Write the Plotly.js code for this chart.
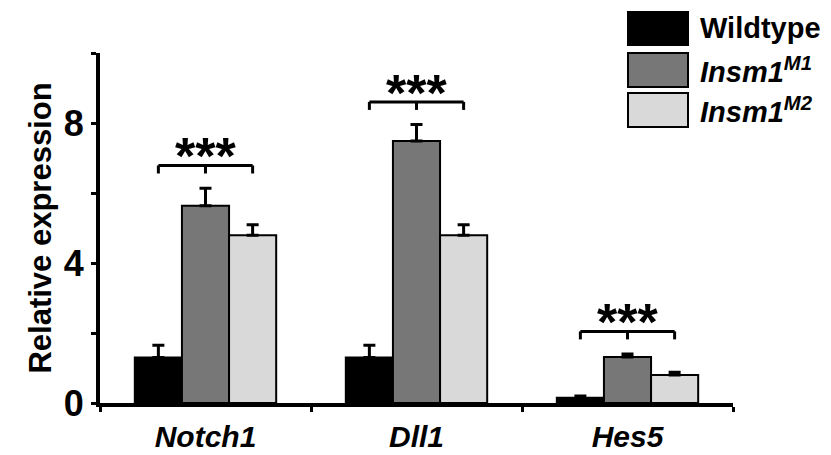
<!DOCTYPE html>
<html><head><meta charset="utf-8">
<script src="https://cdn.plot.ly/plotly-3.0.1.min.js"></script>
<style>html,body{margin:0;padding:0;background:#fff}#chart{width:831px;height:455px}</style>
</head><body><div id="chart"></div>
<script>
// ---- data ----
const genes = ['Notch1', 'Dll1', 'Hes5'];
const seriesNames = ['Wildtype', '<i>Insm1<sup>M1</sup></i>', '<i>Insm1<sup>M2</sup></i>'];
const wildtype = [1.3, 1.3, 0.15];
const insm1M1 = [5.65, 7.5, 1.32];
const insm1M2 = [4.8, 4.8, 0.8];
const wildtypeErr = [0.35, 0.35, 0.05];
const insm1M1Err = [0.5, 0.47, 0.08];
const insm1M2Err = [0.3, 0.3, 0.08];
const significance = ['***', '***', '***'];
const yTickVals = [0, 4, 8];
const yTickText = ['0', '4', '8'];
const yMinorStep = 2;

// ---- styling ----
const colors = ['#000000', '#777777', '#d9d9d9'];
const FONT = 'Liberation Sans, Arial, Helvetica, sans-serif';
const W = 831, H = 455;
const M = {l: 100, r: 98, t: 53, b: 52};
const bargap = 0.33;
const yRange = [0, 10.02];
const plotW = W - M.l - M.r, plotH = H - M.t - M.b;
const pxX = p => (p - M.l) / plotW;
const pxY = p => (H - M.b - p) / plotH;
const unitsPerPx = (yRange[1] - yRange[0]) / plotH;

const values = [wildtype, insm1M1, insm1M2];
const errs = [wildtypeErr, insm1M1Err, insm1M2Err];

const traces = values.map((v, k) => ({
  type: 'bar', x: genes, y: v, name: seriesNames[k],
  marker: {color: colors[k], line: {color: '#000', width: 2}},
  error_y: {type: 'data', symmetric: false, array: errs[k], arrayminus: v.map(() => 0),
            color: '#000', thickness: 3, width: 6},
  showlegend: false, hoverinfo: 'skip'
}));

const shapes = [];
const annotations = [];
const barW = (1 - bargap) / 3;
const tickDrop = 8 * unitsPerPx;
const bracketGap = 0.65;
genes.forEach((g, i) => {
  const top = Math.max(...values.map((v, k) => v[i] + errs[k][i]));
  const yb = top + bracketGap;
  const x0 = i - barW, x1 = i + barW;
  const line = {color: '#000', width: 3};
  shapes.push({type: 'line', xref: 'x', yref: 'y', x0: x0, x1: x1, y0: yb, y1: yb, line});
  [x0, i, x1].forEach(xx => shapes.push({type: 'line', xref: 'x', yref: 'y', x0: xx, x1: xx, y0: yb, y1: yb - tickDrop, line}));
  annotations.push({xref: 'x', yref: 'y', x: i, y: yb, text: '<b>' + significance[i] + '</b>', showarrow: false,
    xanchor: 'center', yanchor: 'bottom', yshift: -22, font: {family: FONT, size: 52, color: '#000'}});
});

// legend drawn manually (large swatches)
const legRows = [[12, 45], [53, 87], [93, 127]];
legRows.forEach((r, k) => {
  shapes.push({type: 'rect', xref: 'paper', yref: 'paper', x0: pxX(628), x1: pxX(688), y0: pxY(r[1]), y1: pxY(r[0]),
    fillcolor: colors[k], line: {color: '#000', width: 2}});
  annotations.push({xref: 'paper', yref: 'paper', x: pxX(698), y: pxY((r[0] + r[1]) / 2), xanchor: 'left', yanchor: 'middle',
    text: '<b>' + seriesNames[k] + '</b>', showarrow: false, font: {family: FONT, size: 29, color: '#000'}});
});

const layout = {
  width: W, height: H, margin: M,
  paper_bgcolor: '#fff', plot_bgcolor: '#fff',
  barmode: 'group', bargap: bargap, bargroupgap: 0,
  showlegend: false,
  font: {family: FONT, color: '#000'},
  xaxis: {
    type: 'category', tickson: 'boundaries', ticks: 'outside', ticklen: 5, tickwidth: 3, tickcolor: '#000',
    showline: true, linewidth: 4, linecolor: '#000', showgrid: false, zeroline: false,
    tickfont: {family: FONT, size: 30, weight: 'bold', style: 'italic', color: '#000'},
    ticklabelstandoff: 4
  },
  yaxis: {
    range: yRange, tickmode: 'array', tickvals: yTickVals, ticktext: yTickText, ticks: 'outside', ticklen: 5, tickwidth: 3, tickcolor: '#000',
    minor: {tick0: 0, dtick: yMinorStep, ticks: 'outside', ticklen: 5, tickwidth: 3, tickcolor: '#000', showgrid: false},
    showline: true, linewidth: 4, linecolor: '#000', showgrid: false, zeroline: false,
    tickfont: {family: FONT, size: 36, weight: 'bold', color: '#000'},
    title: {text: '<b>Relative expression</b>', font: {family: FONT, size: 31, color: '#000'}, standoff: 4}
  },
  shapes, annotations
};

Plotly.newPlot('chart', traces, layout, {staticPlot: true, displayModeBar: false});
</script>
</body></html>
